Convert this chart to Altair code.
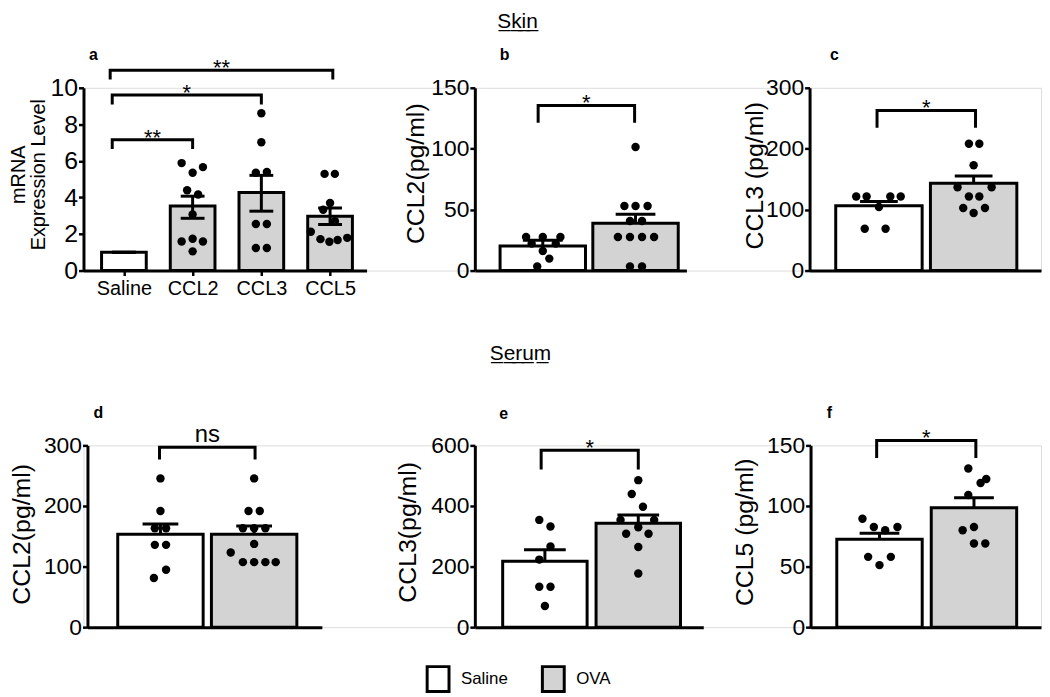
import json
import altair as alt
import pandas as pd

FONT = "Liberation Sans"
GRAY = "#d3d3d3"
TREATMENTS = ["Saline", "OVA"]

# ---------------- panel a : mRNA (skin) ----------------
A_GROUPS = ["Saline", "CCL2", "CCL3", "CCL5"]
A_TREAT = ["Saline", "OVA", "OVA", "OVA"]
A_MEAN = [1.0, 3.53, 4.27, 2.97]
A_SEM_LO = [1.0, 2.86, 3.25, 2.52]
A_SEM_HI = [1.0, 4.07, 5.21, 3.42]
A_PT_GROUP = [1] * 10 + [2] * 8 + [3] * 10
A_PT_VALUE = [5.88, 5.35, 5.66, 4.39, 4.16, 3.07, 1.59, 1.74, 1.59, 1.05,
              8.61, 7.02, 5.35, 5.39, 2.55, 2.55, 1.23, 1.23,
              5.29, 5.29, 3.70, 3.33, 2.70, 2.12, 1.72, 1.58, 1.67, 1.79]
A_PT_JITTER = [-0.16, 0.0, 0.15, -0.08, 0.08, 0.0, -0.16, 0.0, 0.15, 0.0,
               0.0, 0.0, -0.08, 0.08, -0.08, 0.08, -0.08, 0.08,
               -0.08, 0.07, 0.0, -0.10, 0.07, -0.28, -0.14, -0.01, 0.11, 0.25]
A_BR_LEFT = [-0.17, -0.17, -0.20]
A_BR_RIGHT = [1.0, 2.0, 3.04]
A_BR_TOP = [7.16, 9.6, 10.96]
A_BR_FOOT = [6.65, 9.09, 10.45]
A_BR_LABEL = ["**", "*", "**"]
A_YTICKS = [0, 2, 4, 6, 8, 10]

# ---------------- panel b : skin CCL2 ----------------
B_MEAN = [20.2, 38.8]
B_SEM_HI = [24.8, 46.2]
B_PT_GROUP = [0] * 8 + [1] * 12
B_PT_VALUE = [27.6, 27.6, 27.6, 22.1, 22.1, 16.1, 9.8, 3.3,
              101.4, 53.0, 53.0, 53.0, 40.7, 40.7, 27.6, 27.6, 27.6, 27.6, 3.3, 3.3]
B_PT_JITTER = [-0.18, 0.0, 0.19, -0.12, 0.14, 0.0, 0.07, -0.06,
               0.0, -0.12, 0.0, 0.13, -0.06, 0.07, -0.19, -0.06, 0.07, 0.20, -0.06, 0.07]
B_BR = [-0.05, 0.99, 135.5, 121.3, "*"]
B_YTICKS = [0, 50, 100, 150]

# ---------------- panel c : skin CCL3 ----------------
C_MEAN = [106.4, 143.2]
C_SEM_HI = [113.5, 155.1]
C_PT_GROUP = [0] * 7 + [1] * 10
C_PT_VALUE = [121.6, 121.6, 121.6, 121.6, 104.3, 68.6, 68.6,
              208.1, 208.1, 172.9, 136.7, 136.7, 121.6, 121.6, 102.6, 102.6, 94.5]
C_PT_JITTER = [-0.24, -0.13, 0.12, 0.23, 0.0, -0.15, 0.07,
               -0.05, 0.06, 0.0, -0.17, 0.19, -0.05, 0.06, -0.11, 0.12, 0.0]
C_BR = [-0.02, 1.02, 262.7, 234.6, "*"]
C_YTICKS = [0, 100, 200, 300]

# ---------------- panel d : serum CCL2 ----------------
D_MEAN = [153.3, 153.3]
D_SEM_HI = [170.3, 166.9]
D_PT_GROUP = [0] * 8 + [1] * 12
D_PT_VALUE = [245.5, 191.6, 163.2, 163.2, 135.8, 135.8, 94.7, 81.1,
              245.5, 191.6, 191.6, 163.2, 163.2, 163.2, 137.4, 123.2, 107.3, 107.3, 107.3, 107.3]
D_PT_JITTER = [0.0, 0.0, -0.06, 0.06, -0.06, 0.06, 0.06, -0.07,
               0.0, -0.06, 0.06, -0.12, 0.0, 0.12, 0.0, -0.25, -0.12, 0.0, 0.12, 0.23]
D_BR = [-0.01, 1.01, 297.0, 276.5, "ns"]
D_YTICKS = [0, 100, 200, 300]

# ---------------- panel e : serum CCL3 ----------------
E_MEAN = [217.4, 343.2]
E_SEM_HI = [255.7, 370.5]
E_PT_GROUP = [0] * 7 + [1] * 10
E_PT_VALUE = [354.0, 332.0, 266.6, 223.0, 133.4, 133.4, 69.9,
              485.2, 439.3, 397.7, 354.0, 354.0, 330.0, 308.2, 308.2, 264.6, 177.0]
E_PT_JITTER = [-0.06, 0.06, 0.06, -0.06, -0.06, 0.06, 0.0,
               0.0, -0.07, 0.05, -0.19, 0.17, 0.0, -0.13, 0.11, 0.0, 0.0]
E_BR = [-0.04, 1.0, 583.6, 520.3, "*"]
E_YTICKS = [0, 200, 400, 600]

# ---------------- panel f : serum CCL5 ----------------
F_MEAN = [72.6, 98.5]
F_SEM_HI = [77.5, 106.7]
F_PT_GROUP = [0] * 7 + [1] * 8
F_PT_VALUE = [89.5, 82.7, 80.0, 82.7, 58.0, 58.0, 51.2,
              130.9, 119.0, 122.3, 109.0, 79.9, 82.7, 69.0, 69.0]
F_PT_JITTER = [-0.18, -0.06, 0.06, 0.19, -0.12, 0.12, 0.0,
               -0.06, 0.07, 0.13, -0.06, -0.12, 0.0, 0.0, 0.12]
F_BR = [-0.03, 1.02, 154.1, 139.6, "*"]
F_YTICKS = [0, 50, 100, 150]


def panel(idx, treat, mean, lo, hi, pt_group, pt_value, pt_jit,
          br_left, br_right, br_top, br_foot, br_label,
          ydomain, yticks, ytitle, xdomain, xrange, width, height,
          bar_size, cap_size, lower_cap, tick_font, title_font,
          title_x, title_y, axis_offset, x_labels, letter, letter_xy,
          sig_size, sig_dy, heading=None):
    xs = alt.Scale(domain=xdomain, range=xrange, nice=False, zero=False)
    ys = alt.Scale(domain=ydomain, nice=False)
    if x_labels:
        xaxis = alt.Axis(values=list(idx),
                         labelExpr=json.dumps(x_labels) + "[datum.value]",
                         ticks=True, tickSize=5, tickWidth=2.5, tickColor="black",
                         labelFontSize=20, labelFont=FONT, labelColor="black",
                         labelPadding=3, labelAngle=0,
                         domainWidth=3, domainColor="black", title=None, grid=False)
    else:
        xaxis = alt.Axis(ticks=False, labels=False, domainWidth=3,
                         domainColor="black", title=None, grid=False)
    yaxis = alt.Axis(values=yticks, tickSize=5, tickWidth=2.5, tickColor="black",
                     domainWidth=3, domainColor="black",
                     labelFontSize=tick_font, labelFont=FONT, labelColor="black",
                     labelPadding=1, grid=False, title=ytitle, titleFont=FONT,
                     titleFontSize=title_font, titleFontWeight="normal",
                     titleColor="black", titleAngle=270, titleAlign="center",
                     titleBaseline="middle", titleX=title_x, titleY=title_y,
                     titleLineHeight=20, offset=axis_offset)

    def X(field):
        return alt.X(field, type="quantitative", scale=xs, axis=xaxis)

    def Y(field):
        return alt.Y(field, type="quantitative", scale=ys, axis=yaxis)

    bars_df = pd.DataFrame({"x": idx, "mean": mean, "treat": treat})
    err_df = pd.DataFrame({"x": idx, "lo": lo, "hi": hi})
    pts_df = pd.DataFrame({"x": [g + j for g, j in zip(pt_group, pt_jit)],
                           "v": pt_value})
    rows = []
    for k, (l, r, t, f) in enumerate(zip(br_left, br_right, br_top, br_foot)):
        rows += [{"b": k, "o": 0, "bx": l, "by": f}, {"b": k, "o": 1, "bx": l, "by": t},
                 {"b": k, "o": 2, "bx": r, "by": t}, {"b": k, "o": 3, "bx": r, "by": f}]
    br_df = pd.DataFrame(rows)
    sig_df = pd.DataFrame({"mx": [(l + r) / 2 for l, r in zip(br_left, br_right)],
                           "top": br_top, "label": br_label})

    legend = alt.Legend(orient="none", legendX=343, legendY=581, direction="horizontal",
                        title=None, symbolType="M-0.88,-1H0.88V1H-0.88Z", symbolSize=625,
                        symbolStrokeColor="black", symbolStrokeWidth=3,
                        labelFont=FONT, labelFontSize=17, labelColor="black",
                        labelOffset=9, columnPadding=28)

    bars = alt.Chart(bars_df).mark_bar(size=bar_size, stroke="black", strokeWidth=3,
                                       orient="vertical").encode(
        x=X("x"), y=Y("mean"),
        fill=alt.Fill("treat:N", scale=alt.Scale(domain=TREATMENTS, range=["white", GRAY]),
                      legend=legend))
    stem = alt.Chart(err_df).mark_rule(color="black", strokeWidth=3).encode(
        x=X("x"), y=Y("lo"), y2="hi")
    cap = alt.Chart(err_df).mark_tick(color="black", size=cap_size, thickness=3,
                                      orient="horizontal", opacity=1).encode(x=X("x"), y=Y("hi"))
    layers = [bars, stem, cap]
    if lower_cap:
        layers.append(alt.Chart(err_df).mark_tick(color="black", size=cap_size, thickness=3,
                                                  orient="horizontal", opacity=1).encode(
            x=X("x"), y=Y("lo")))
    pts = alt.Chart(pts_df).mark_circle(size=72, color="black", opacity=1).encode(
        x=X("x"), y=Y("v"))
    brk = alt.Chart(br_df).mark_line(color="black", strokeWidth=3, strokeJoin="miter").encode(
        x=X("bx"), y=Y("by"), detail="b:N", order="o:Q")
    sig = alt.Chart(sig_df).mark_text(font=FONT, fontSize=sig_size, dy=sig_dy,
                                      baseline="alphabetic", align="center", color="black").encode(
        x=X("mx"), y=Y("top"), text="label:N")
    let = alt.Chart(pd.DataFrame({"t": [letter]})).mark_text(
        font=FONT, fontSize=16, fontWeight="bold", align="center", baseline="alphabetic",
        color="black").encode(text="t:N", x=alt.value(letter_xy[0]), y=alt.value(letter_xy[1]))
    layers += [pts, brk, sig, let]
    if heading:
        txt, hx, hy = heading
        under = "".join(ch + "\u0332" for ch in txt)
        layers.append(alt.Chart(pd.DataFrame({"t": [under]})).mark_text(
            font=FONT, fontSize=21, align="center", baseline="alphabetic", color="black").encode(
            text="t:N", x=alt.value(hx), y=alt.value(hy)))
    return alt.layer(*layers).properties(width=width, height=height)


IDX2 = [0, 1]
pa = panel(list(range(4)), A_TREAT, A_MEAN, A_SEM_LO, A_SEM_HI, A_PT_GROUP, A_PT_VALUE, A_PT_JITTER,
           A_BR_LEFT, A_BR_RIGHT, A_BR_TOP, A_BR_FOOT, A_BR_LABEL,
           [0, 10], A_YTICKS, ["mRNA", "Expression Level"], [-0.516, 3.459], [0, 285], 394, 184,
           45, 24, True, 25, 20, -65, 87, 0, A_GROUPS, "a", (10, -28), 22, 5)
pb = panel(IDX2, TREATMENTS, B_MEAN, B_MEAN, B_SEM_HI, B_PT_GROUP, B_PT_VALUE, B_PT_JITTER,
           [B_BR[0]], [B_BR[1]], [B_BR[2]], [B_BR[3]], [B_BR[4]],
           [0, 150], B_YTICKS, "CCL2(pg/ml)", [-0.679, 1.495], [0, 213], 337, 184,
           86, 40, False, 23, 25, -60, 86, 0, None, "b", (30, -28), 22, 5,
           heading=("Skin", 43, -60))
pc = panel(IDX2, TREATMENTS, C_MEAN, C_MEAN, C_SEM_HI, C_PT_GROUP, C_PT_VALUE, C_PT_JITTER,
           [C_BR[0]], [C_BR[1]], [C_BR[2]], [C_BR[3]], [C_BR[4]],
           [0, 300], C_YTICKS, "CCL3 (pg/ml)", [-0.680, 1.659], [0, 233], 233, 184,
           87, 38, False, 23, 25, -55, 88, 0, None, "c", (25, -28), 22, 5)
pd_ = panel(IDX2, TREATMENTS, D_MEAN, D_MEAN, D_SEM_HI, D_PT_GROUP, D_PT_VALUE, D_PT_JITTER,
            [D_BR[0]], [D_BR[1]], [D_BR[2]], [D_BR[3]], [D_BR[4]],
            [0, 300], D_YTICKS, "CCL2(pg/ml)", [-0.726, 1.670], [4, 240], 394, 183,
            86, 36, False, 23, 25, -66, 89, -4, None, "d", (15, -28), 24, -5)
pe = panel(IDX2, TREATMENTS, E_MEAN, E_MEAN, E_SEM_HI, E_PT_GROUP, E_PT_VALUE, E_PT_JITTER,
           [E_BR[0]], [E_BR[1]], [E_BR[2]], [E_BR[3]], [E_BR[4]],
           [0, 600], E_YTICKS, "CCL3(pg/ml)", [-0.697, 1.643], [0, 230], 337, 183,
           85, 42, False, 23, 25, -68, 87, 0, None, "e", (29, -27), 22, 5,
           heading=("Serum", 46, -86))
pf = panel(IDX2, TREATMENTS, F_MEAN, F_MEAN, F_SEM_HI, F_PT_GROUP, F_PT_VALUE, F_PT_JITTER,
           [F_BR[0]], [F_BR[1]], [F_BR[2]], [F_BR[3]], [F_BR[4]],
           [0, 150], F_YTICKS, "CCL5 (pg/ml)", [-0.677, 1.657], [1, 233], 233, 183,
           86, 40, False, 23, 25, -66, 87, -1, None, "f", (20, -28), 22, 5)

chart = alt.concat(pa, pb, pc, pd_, pe, pf, columns=3, spacing={"row": 176, "column": 0},
                   bounds="flush").properties(padding=0).configure_view(strokeWidth=0).configure(
    font=FONT)

chart.save("out.html", embed_options={"renderer": "svg", "actions": False})
